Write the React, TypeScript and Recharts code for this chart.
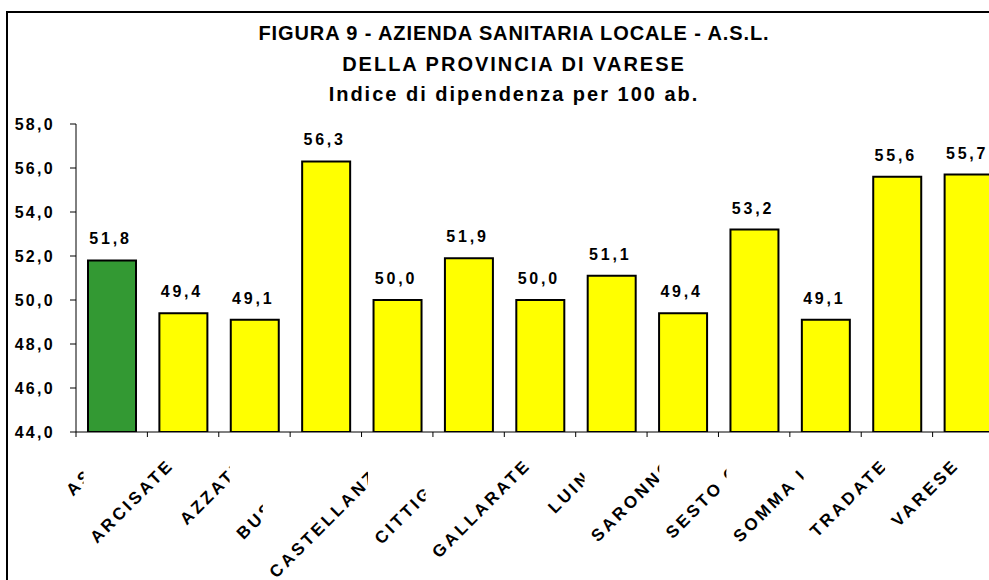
import React from "react";
import { BarChart, Bar, XAxis, YAxis, Cell, LabelList } from "recharts";

const CATEGORIES = [
  "ASL",
  "ARCISATE",
  "AZZATE",
  "BUSTO A.",
  "CASTELLANZA",
  "CITTIGLIO",
  "GALLARATE",
  "LUINO",
  "SARONNO",
  "SESTO C.",
  "SOMMA L.",
  "TRADATE",
  "VARESE",
];
const VALUES = [51.8, 49.4, 49.1, 56.3, 50.0, 51.9, 50.0, 51.1, 49.4, 53.2, 49.1, 55.6, 55.7];
const Y_TICKS = [44, 46, 48, 50, 52, 54, 56, 58];
const TITLE_LINES = [
  "FIGURA 9 - AZIENDA SANITARIA LOCALE - A.S.L.",
  "DELLA PROVINCIA DI VARESE",
  "Indice di dipendenza per 100 ab.",
];

const FONT = "'Liberation Sans', Arial, sans-serif";
const GREEN = "#339933";
const YELLOW = "#ffff00";
const TITLE_SPACING = [0.9, 2, 2];

const data = CATEGORIES.map((name, i) => ({ name, value: VALUES[i] }));
const fmt = (v: number) => v.toFixed(1).replace(".", ",");

let ctx: CanvasRenderingContext2D | null = null;
function textWidth(text: string, font: string, spacing: number) {
  if (!ctx) ctx = document.createElement("canvas").getContext("2d");
  if (!ctx) return text.length * 12;
  ctx.font = font;
  return ctx.measureText(text).width + spacing * text.length;
}

const X_SIZE = 17;
const X_SPACING = 3.1;

// Excel-like rotated labels: each label has a white box that hides the previous one
function XTick(props: any) {
  const { x, y, payload } = props;
  const half = payload.offset || 35.7;
  const px = x - 8;
  const py = y + 34;
  const len = textWidth(String(payload.value), `bold ${X_SIZE}px ${FONT}`, X_SPACING);
  const d = Math.SQRT1_2;
  const cap = 12;
  const left = px - d * len - d * cap - 5;
  const top = py - d * cap - 1;
  return (
    <g>
      <line x1={x - half} y1={y} x2={x - half} y2={y + 5} stroke="#000" />
      <rect x={left} y={top} width={px + 2 - left} height={py + d * len + 2 - top} fill="#fff" />
      <text
        x={px}
        y={py}
        transform={`rotate(-45 ${px} ${py})`}
        textAnchor="end"
        fontFamily={FONT}
        fontWeight="bold"
        fontSize={X_SIZE}
        letterSpacing={X_SPACING}
        fill="#000"
      >
        {payload.value}
      </text>
    </g>
  );
}

function YTick(props: any) {
  const { x, y, payload } = props;
  return (
    <text
      x={x}
      y={y}
      dy={5.5}
      textAnchor="end"
      fontFamily={FONT}
      fontWeight="bold"
      fontSize={16}
      letterSpacing={2.3}
      fill="#000"
    >
      {fmt(payload.value)}
    </text>
  );
}

function ValueLabel(props: any) {
  const { x, y, width, value } = props;
  return (
    <text
      x={x + width / 2 - 1.5}
      y={y - 16}
      textAnchor="middle"
      fontFamily={FONT}
      fontWeight="bold"
      fontSize={16}
      letterSpacing={2.8}
      fill="#000"
    >
      {fmt(value)}
    </text>
  );
}

export default function App() {
  return (
    <div
      style={{
        position: "absolute",
        left: 0,
        top: 0,
        width: 989,
        height: 580,
        overflow: "hidden",
        background: "#fff",
      }}
    >
      <div
        style={{
          position: "absolute",
          left: 6,
          top: 11,
          width: 1100,
          height: 700,
          border: "2px solid #000",
        }}
      />
      <svg width={989} height={110} style={{ position: "absolute", left: 0, top: 0 }}>
        {TITLE_LINES.map((t, i) => (
          <text
            key={i}
            x={514}
            y={40 + i * 30.5}
            textAnchor="middle"
            fontFamily={FONT}
            fontWeight="bold"
            fontSize={20}
            letterSpacing={TITLE_SPACING[i]}
            fill="#000"
          >
            {t}
          </text>
        ))}
      </svg>
      <div style={{ position: "absolute", left: 0, top: 0 }}>
        <BarChart
          width={1010}
          height={580}
          data={data}
          margin={{ top: 124, right: 6, bottom: 118, left: 0 }}
        >
          <XAxis
            dataKey="name"
            height={30}
            interval={0}
            tickLine={false}
            tickSize={0}
            tickMargin={0}
            axisLine={{ stroke: "#000" }}
            tick={<XTick />}
          />
          <YAxis
            width={76}
            domain={[44, 58]}
            ticks={Y_TICKS}
            allowDataOverflow
            tickSize={6}
            tickMargin={15}
            axisLine={{ stroke: "#000" }}
            tickLine={{ stroke: "#000" }}
            tick={<YTick />}
          />
          <Bar dataKey="value" barSize={48} stroke="#000" strokeWidth={2} isAnimationActive={false}>
            {data.map((_, i) => (
              <Cell key={i} fill={i === 0 ? GREEN : YELLOW} />
            ))}
            <LabelList dataKey="value" content={<ValueLabel />} />
          </Bar>
        </BarChart>
      </div>
    </div>
  );
}
